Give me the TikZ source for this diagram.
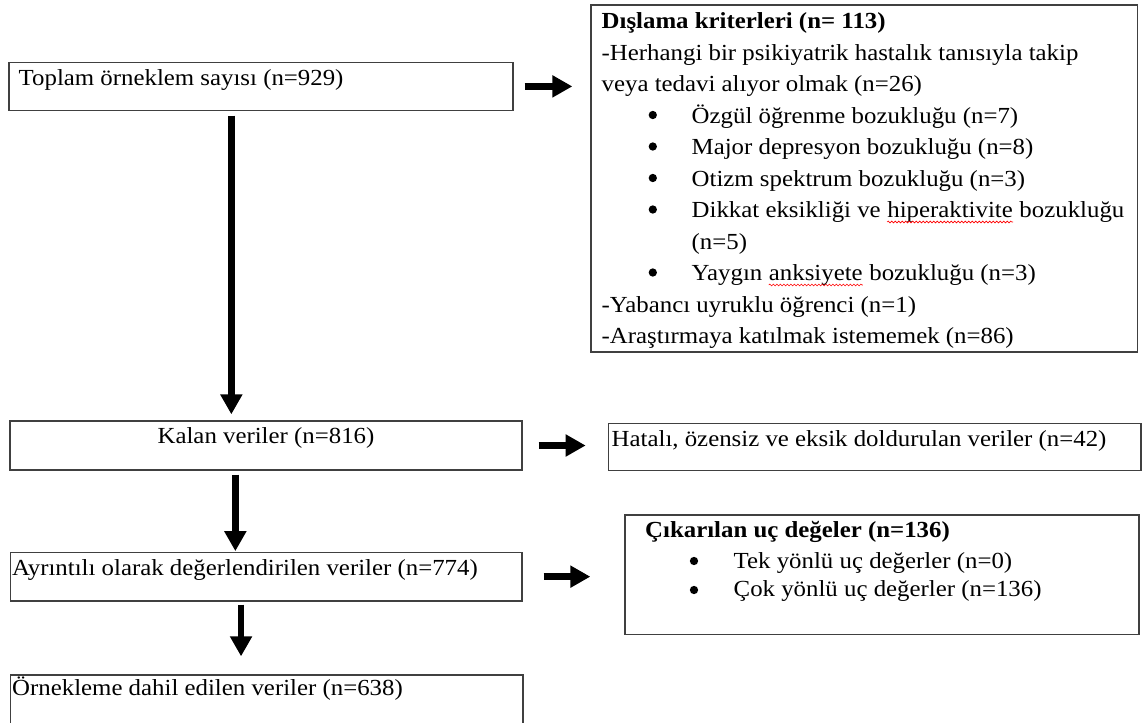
\documentclass[tikz,border=0pt]{standalone}
\usepackage{fontspec}
\setmainfont{Liberation Serif}[FakeStretch=1.08]
\usetikzlibrary{arrows.meta,decorations.pathmorphing}
\tikzset{
  box/.style={draw=black!75, line width=1.3pt, rectangle, inner sep=0pt},
  txt/.style={anchor=base west, inner sep=0pt, font=\fontsize{23}{31.5}\selectfont},
  ctxt/.style={anchor=base, inner sep=0pt, font=\fontsize{23}{31.5}\selectfont},
  bul/.style={circle, fill=black, inner sep=0pt, minimum size=8.3pt},
  bigarrow/.style={line width=6.5pt, black, -{Triangle[length=20pt 0 0, width=21pt 0 0]}},
  spell/.style={red, line width=0.6pt, decorate, decoration={snake, amplitude=0.9pt, segment length=3.5pt}}
}
\begin{document}
\begin{tikzpicture}[x=1pt,y=-1pt]
\useasboundingbox (0,0) rectangle (1144,723);
\fill[white] (0,0) rectangle (1144,723);

% boxes
\node[box, minimum width=504pt, minimum height=48.2pt] (b1) at (261,86.4) {};
\node[box, minimum width=546.5pt, minimum height=347pt] (ex) at (864.25,178.5) {};
\node[box, minimum width=512pt, minimum height=49pt] (b2) at (266,445.5) {};
\node[box, minimum width=532.7pt, minimum height=47.4pt] (hat) at (874.65,447) {};
\node[box, minimum width=511.3pt, minimum height=48.7pt] (b3) at (266.35,576.65) {};
\node[box, minimum width=514pt, minimum height=119.3pt] (cik) at (882,574.65) {};
\node[box, minimum width=512.3pt, minimum height=52pt] (b4) at (266.85,701) {};

% texts
\node[txt] (t1) at (18.5,85) {Toplam örneklem sayısı (n=929)};
\node[ctxt] (t2) at (266,443) {Kalan veriler (n=816)};
\node[txt] (t3) at (611.5,446.5) {Hatalı, özensiz ve eksik doldurulan veriler (n=42)};
\node[txt] (t4) at (12,575) {Ayrıntılı olarak değerlendirilen veriler (n=774)};
\node[txt] (t6) at (12,695) {Örnekleme dahil edilen veriler (n=638)};

\node[txt] (c1) at (645,537) {\bfseries Çıkarılan uç değeler (n=136)};
\node[bul] (c2b) at (694,561) {};
\node[txt] (c2) at (733.5,568.3) {Tek yönlü uç değerler (n=0)};
\node[bul] (c3b) at (694,590) {};
\node[txt] (c3) at (733.5,596.7) {Çok yönlü uç değerler (n=136)};

\node[txt] (e1) at (601.5,28.5) {\bfseries Dışlama kriterleri (n= 113)};
\node[txt] (e2) at (601.5,60) {-Herhangi bir psikiyatrik hastalık tanısıyla takip};
\node[txt] (e3) at (601.5,91.5) {veya tedavi alıyor olmak (n=26)};
\node[bul] (e4b) at (652.8,115) {};
\node[txt] (e4) at (691.5,123) {Özgül öğrenme bozukluğu (n=7)};
\node[bul] (e5b) at (652.8,146.5) {};
\node[txt] (e5) at (691.5,154.5) {Major depresyon bozukluğu (n=8)};
\node[bul] (e6b) at (652.8,178) {};
\node[txt] (e6) at (691.5,186) {Otizm spektrum bozukluğu (n=3)};
\node[bul] (e7b) at (652.8,209.5) {};
\node[txt] (e7) at (691.5,217.5) {Dikkat eksikliği ve};
\node[txt] (e7w) at ([xshift=6.2pt]e7.base east) {hiperaktivite};
\node[txt] (e7c) at ([xshift=6.2pt]e7w.base east) {bozukluğu};
\node[txt] (e8) at (691.5,249) {(n=5)};
\node[bul] (e9b) at (652.8,272.5) {};
\node[txt] (e9) at (691.5,280.5) {Yaygın};
\node[txt] (e9w) at ([xshift=6.2pt]e9.base east) {anksiyete};
\node[txt] (e9c) at ([xshift=6.2pt]e9w.base east) {bozukluğu (n=3)};
\node[txt] (e10) at (601.5,312) {-Yabancı uyruklu öğrenci (n=1)};
\node[txt] (e11) at (601.5,343.5) {-Araştırmaya katılmak istememek (n=86)};

% spell-check marks
\draw[spell] ([yshift=-4.5pt]e7w.base west) -- ([yshift=-4.5pt]e7w.base east);
\draw[spell] ([yshift=-4.5pt]e9w.base west) -- ([yshift=-4.5pt]e9w.base east);

% arrows
\draw[bigarrow, shorten <=11pt, shorten >=18pt] (b1.east) -- (b1.east -| ex.west);
\draw[bigarrow, shorten <=4.5pt, shorten >=6pt] ([xshift=223pt]b1.south west) -- ([xshift=223pt]b1.south west |- b2.north);
\draw[bigarrow, shorten <=16pt, shorten >=22pt] (b2.east) -- (b2.east -| hat.west);
\draw[bigarrow, shorten <=4pt, shorten >=0.5pt] ([xshift=226pt]b2.south west) -- ([xshift=226pt]b2.south west |- b3.north);
\draw[bigarrow, shorten <=21pt, shorten >=34pt] (b3.east) -- (b3.east -| cik.west);
\draw[bigarrow, shorten <=3pt, shorten >=18pt] ([xshift=231pt]b3.south west) -- ([xshift=231pt]b3.south west |- b4.north);
\end{tikzpicture}
\end{document}
